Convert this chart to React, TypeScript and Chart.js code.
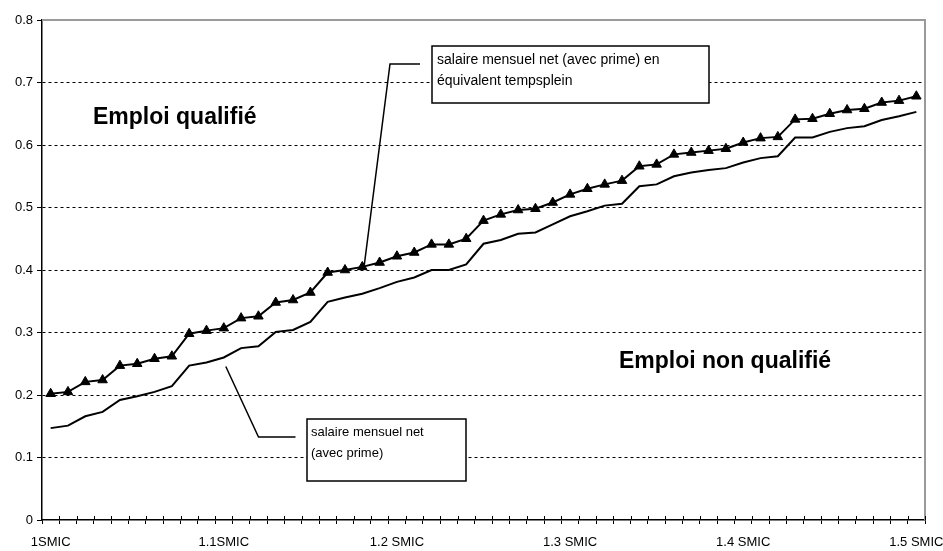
import React, { useEffect, useRef } from "react";
import { Chart, registerables } from "chart.js";

Chart.register(...registerables);

// x categories (fraction of SMIC)
const categories = [
  "1.00", "1.01", "1.02", "1.03", "1.04", "1.05", "1.06", "1.07", "1.08", "1.09",
  "1.10", "1.11", "1.12", "1.13", "1.14", "1.15", "1.16", "1.17", "1.18", "1.19",
  "1.20", "1.21", "1.22", "1.23", "1.24", "1.25", "1.26", "1.27", "1.28", "1.29",
  "1.30", "1.31", "1.32", "1.33", "1.34", "1.35", "1.36", "1.37", "1.38", "1.39",
  "1.40", "1.41", "1.42", "1.43", "1.44", "1.45", "1.46", "1.47", "1.48", "1.49",
  "1.50",
];

const xTickLabels = ["1SMIC", "1.1SMIC", "1.2 SMIC", "1.3 SMIC", "1.4 SMIC", "1.5 SMIC"];

// salaire mensuel net (avec prime) en équivalent temps plein
const salaireEtp = [
  0.202, 0.205, 0.221, 0.224, 0.247, 0.250, 0.258, 0.262, 0.298, 0.303,
  0.307, 0.323, 0.326, 0.348, 0.352, 0.364, 0.396, 0.400, 0.405, 0.412,
  0.422, 0.428, 0.441, 0.441, 0.450, 0.479, 0.489, 0.496, 0.498, 0.508,
  0.521, 0.530, 0.537, 0.543, 0.566, 0.569, 0.585, 0.588, 0.591, 0.594,
  0.604, 0.611, 0.613, 0.641, 0.642, 0.650, 0.656, 0.658, 0.668, 0.671,
  0.678,
];

// salaire mensuel net (avec prime)
const salaireNet = [
  0.147, 0.151, 0.166, 0.173, 0.192, 0.198, 0.205, 0.214, 0.247, 0.252,
  0.260, 0.275, 0.278, 0.301, 0.304, 0.317, 0.349, 0.356, 0.362, 0.371,
  0.381, 0.388, 0.400, 0.400, 0.409, 0.442, 0.448, 0.458, 0.460, 0.473,
  0.486, 0.494, 0.503, 0.506, 0.534, 0.537, 0.550, 0.556, 0.560, 0.563,
  0.572, 0.579, 0.582, 0.612, 0.612, 0.621, 0.627, 0.630, 0.640, 0.646,
  0.653,
];

const labelEtp = ["salaire mensuel net (avec prime) en", "équivalent tempsplein"];
const labelNet = ["salaire mensuel net", "(avec prime)"];
const zoneTop = "Emploi qualifié";
const zoneBottom = "Emploi non qualifié";

const FONT = '"Liberation Sans", Arial, Helvetica, sans-serif';

const decorPlugin = {
  id: "decor",
  afterDraw(chart: any) {
    const { ctx, chartArea: a } = chart;
    ctx.save();

    // grey top / right frame
    ctx.strokeStyle = "#9a9a9a";
    ctx.lineWidth = 2;
    ctx.beginPath();
    ctx.moveTo(a.left, a.top);
    ctx.lineTo(a.right, a.top);
    ctx.lineTo(a.right, a.bottom);
    ctx.stroke();

    // inner half of the cross tick marks on the x axis
    const n = categories.length;
    const w = (a.right - a.left) / n;
    ctx.strokeStyle = "#000";
    ctx.lineWidth = 1;
    for (let k = 1; k <= n; k++) {
      const x = Math.round(a.left + k * w) + 0.5;
      ctx.beginPath();
      ctx.moveTo(x, a.bottom - 4);
      ctx.lineTo(x, a.bottom);
      ctx.stroke();
    }

    // zone labels
    ctx.fillStyle = "#000";
    ctx.font = `bold 23px ${FONT}`;
    ctx.textBaseline = "alphabetic";
    ctx.textAlign = "left";
    ctx.fillText(zoneTop, 93, 124);
    ctx.fillText(zoneBottom, 619, 368);

    // leader lines
    const up = chart.getDatasetMeta(0).data[18];
    const lo = chart.getDatasetMeta(1).data[10];
    ctx.strokeStyle = "#000";
    ctx.lineWidth = 1.5;
    ctx.beginPath();
    ctx.moveTo(up.x + 2, up.y - 2);
    ctx.lineTo(390, 64);
    ctx.lineTo(420, 64);
    ctx.stroke();
    ctx.beginPath();
    ctx.moveTo(lo.x + 2, lo.y + 9);
    ctx.lineTo(258.5, 437);
    ctx.lineTo(295.5, 437);
    ctx.stroke();

    // label boxes
    const box = (x: number, y: number, bw: number, bh: number, lines: string[], tx: number, ty: number, fs: number) => {
      ctx.fillStyle = "#fff";
      ctx.fillRect(x, y, bw, bh);
      ctx.strokeStyle = "#000";
      ctx.lineWidth = 1.5;
      ctx.strokeRect(x, y, bw, bh);
      ctx.fillStyle = "#000";
      ctx.font = `${fs}px ${FONT}`;
      ctx.textBaseline = "middle";
      lines.forEach((t, i) => ctx.fillText(t, tx, ty + i * 21.5));
    };
    box(432, 46, 277, 57, labelEtp, 437, 60, 14);
    box(307, 419, 159, 62, labelNet, 311, 432, 13);

    ctx.restore();
  },
};

export default function App() {
  const ref = useRef<HTMLCanvasElement | null>(null);

  useEffect(() => {
    if (!ref.current) return;
    Chart.defaults.color = "#000";
    Chart.defaults.font.family = FONT;
    const chart = new Chart(ref.current, {
      type: "line",
      data: {
        labels: categories,
        datasets: [
          {
            label: labelEtp.join(" "),
            data: salaireEtp,
            borderColor: "#000",
            backgroundColor: "#000",
            borderWidth: 2,
            pointStyle: "triangle",
            pointRadius: 5.5,
            pointBackgroundColor: "#000",
            pointBorderColor: "#000",
            pointBorderWidth: 1,
            tension: 0,
          },
          {
            label: labelNet.join(" "),
            data: salaireNet,
            borderColor: "#000",
            backgroundColor: "#000",
            borderWidth: 2,
            pointRadius: 0,
            tension: 0,
          },
        ],
      },
      options: {
        responsive: false,
        animation: false,
        layout: { padding: { left: 0, top: 20, right: 18, bottom: 0 } },
        plugins: { legend: { display: false }, tooltip: { enabled: false } },
        scales: {
          x: {
            type: "category",
            offset: true,
            grid: {
              offset: true,
              drawOnChartArea: false,
              drawTicks: true,
              tickLength: 4,
              color: "#000",
              lineWidth: 1,
            },
            border: { display: true, color: "#000", width: 1.5 },
            ticks: {
              autoSkip: false,
              maxRotation: 0,
              minRotation: 0,
              padding: 11,
              font: { size: 13, family: FONT },
              color: "#000",
              callback: (_v: any, i: number) => (i % 10 === 0 ? xTickLabels[i / 10] : ""),
            },
            afterFit: (s: any) => {
              s.height = 31;
              s.paddingLeft = 0;
              s.paddingRight = 0;
            },
          },
          y: {
            min: 0,
            max: 0.8,
            grid: {
              drawTicks: true,
              tickLength: 5,
              tickColor: "#000",
              lineWidth: 1,
              color: (c: any) =>
                c.tick && (c.tick.value < 0.01 || c.tick.value > 0.79) ? "rgba(0,0,0,0)" : "#000",
            },
            border: { display: true, color: "#000", width: 1.5, dash: [3, 3] },
            ticks: {
              stepSize: 0.1,
              padding: 4,
              font: { size: 13, family: FONT },
              color: "#000",
              callback: (v: any) => (Number(v) === 0 ? "0" : Number(v).toFixed(1)),
            },
            afterFit: (s: any) => {
              s.width = 42;
              s.paddingTop = 0;
              s.paddingBottom = 0;
            },
          },
        },
      },
      plugins: [decorPlugin],
    });
    return () => chart.destroy();
  }, []);

  return (
    <div style={{ position: "fixed", left: 0, top: 0, width: 943, height: 551, background: "#fff" }}>
      <canvas ref={ref} width={943} height={551} />
    </div>
  );
}
